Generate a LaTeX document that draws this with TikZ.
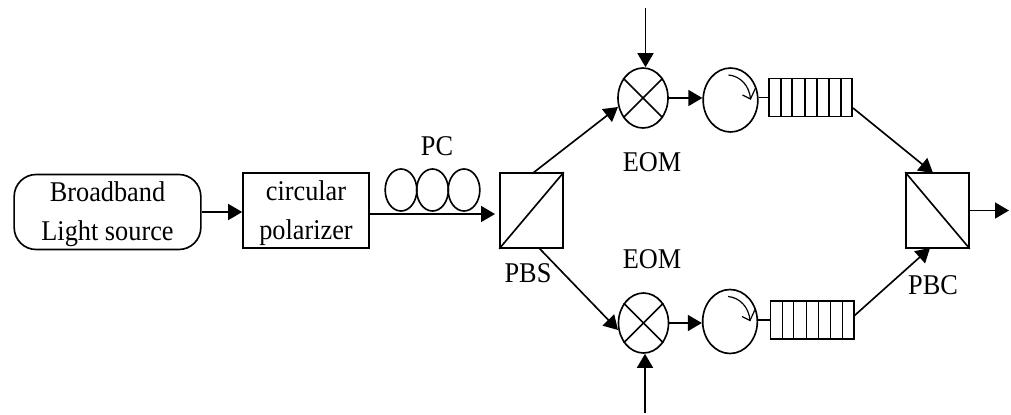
\documentclass[tikz,border=0pt]{standalone}
\usepackage{fontspec}
\setmainfont[FakeStretch=0.92]{Liberation Serif}
\usepackage{tikz}
\usetikzlibrary{arrows.meta,positioning,shapes,calc}
\newcommand{\lift}{\rule{0pt}{21pt}}

\begin{document}
\begin{tikzpicture}[x=0.03cm,y=-0.03cm,line width=1.4pt,
    txt/.style={font=\fontsize{24.4}{33}\selectfont,inner sep=0pt,align=center},
    box/.style={draw,txt,minimum width=3.78cm,minimum height=2.25cm},
    cube/.style={draw,minimum width=1.89cm,minimum height=2.25cm,inner sep=0pt},
    loopy/.style={draw,ellipse,minimum width=0.95cm,minimum height=1.26cm,inner sep=0pt},
    mixer/.style={draw,ellipse,minimum width=1.5cm,minimum height=1.8cm,inner sep=0pt},
    circu/.style={draw,ellipse,minimum width=1.64cm,minimum height=1.92cm,inner sep=0pt},
    queue/.style={draw,minimum width=2.5cm,minimum height=1.15cm,inner sep=0pt},
    arr/.style={-{Triangle[length=0.42cm,width=0.48cm]}}]
\useasboundingbox (0,0) rectangle (1011,414);

% Input chain
\node[box,rounded corners=0.66cm,minimum width=5.6cm] (src) at (107.5,212) {\lift Broadband\\Light source};
\node[box] (pol) at (306,210.5) {\lift circular\\polarizer};
\node[loopy] (pc1) at (401,190) {};
\node[loopy] (pc2) at (432.5,190) {};
\node[loopy] (pc3) at (464,190) {};
\node[txt] (pclab) at (437,146) {PC};

% Splitter and combiner
\node[cube] (pbs) at (531.5,210.5) {};
\node[cube] (pbc) at (937.5,210.5) {};
\draw (pbs.south west) -- (pbs.north east);
\draw (pbc.north west) -- (pbc.south east);
\node[txt] (pbslab) at (528,273) {PBS};
\node[txt] (pbclab) at (933,285) {PBC};

% Upper arm
\node[mixer] (mixup) at (643,98) {};
\node[circu] (cirup) at (730.5,100) {};
\node[queue] (qup) at (810.5,97.5) {};
\node[txt] (eomup) at (652,162) {EOM};
% Lower arm
\node[mixer] (mixlo) at (643.5,323) {};
\node[circu] (cirlo) at (730,321.5) {};
\node[queue] (qlo) at (812,320) {};
\node[txt] (eomlo) at (652,259) {EOM};

% Crosses, queue slots and rotation marks
\foreach \m in {mixup,mixlo} {
    \draw (\m.45) -- (\m.225);
    \draw (\m.135) -- (\m.315);
}
\foreach \q in {qup,qlo} {
    \foreach \d in {13,24,37,49,61,73} {
        \draw ($(\q.north west)+(\d,0)$) -- ($(\q.south west)+(\d,0)$);
    }
}
\foreach \c in {cirup,cirlo} {
    \draw[line width=1pt] ($(\c.center)+(-2,-25)$) .. controls ($(\c.center)+(10,-24)$) and ($(\c.center)+(19,-14)$) .. ($(\c.center)+(20,-1)$);
    \draw[line width=1pt] ($(\c.center)+(12,-5)$) -- ($(\c.center)+(20,-1)$) -- ($(\c.center)+(25,-12)$);
}

% Free ends
\coordinate (polout) at (369,214);
\coordinate (pbsin) at (495,214);
\coordinate (topin) at (645.5,8);
\coordinate (botin) at (645,413);
\coordinate (out) at (1009,210.5);
\coordinate (pbsup) at (533,173);
\coordinate (pbslo) at (539,248);
\coordinate (qupout) at (853,108);
\coordinate (qloout) at (854,316);
\coordinate (pbcup) at (933,173);
\coordinate (pbclo) at (930,248);
\coordinate (mixupin) at (618,107);
\coordinate (mixloin) at (618,330);

% Connections
\draw[arr] (src.east) -- (src.east -| pol.west);
\draw[arr] (polout) -- (pbsin);
\draw[arr] (pbsup) -- (mixupin);
\draw[arr] (pbslo) -- (mixloin);
\draw[arr] (topin) -- (topin |- mixup.north);
\draw[arr] (botin) -- (botin |- mixlo.south);
\draw[arr] (mixup.east) -- (mixup.east -| cirup.west);
\draw[arr] (mixlo.east) -- (mixlo.east -| cirlo.west);
\draw (cirup.east |- qup.west) -- (qup.west);
\draw (cirlo.east |- qlo.west) -- (qlo.west);
\draw[arr] (qupout) -- (pbcup);
\draw[arr] (qloout) -- (pbclo);
\draw[arr] (pbc.east) -- (out);

\end{tikzpicture}
\end{document}
